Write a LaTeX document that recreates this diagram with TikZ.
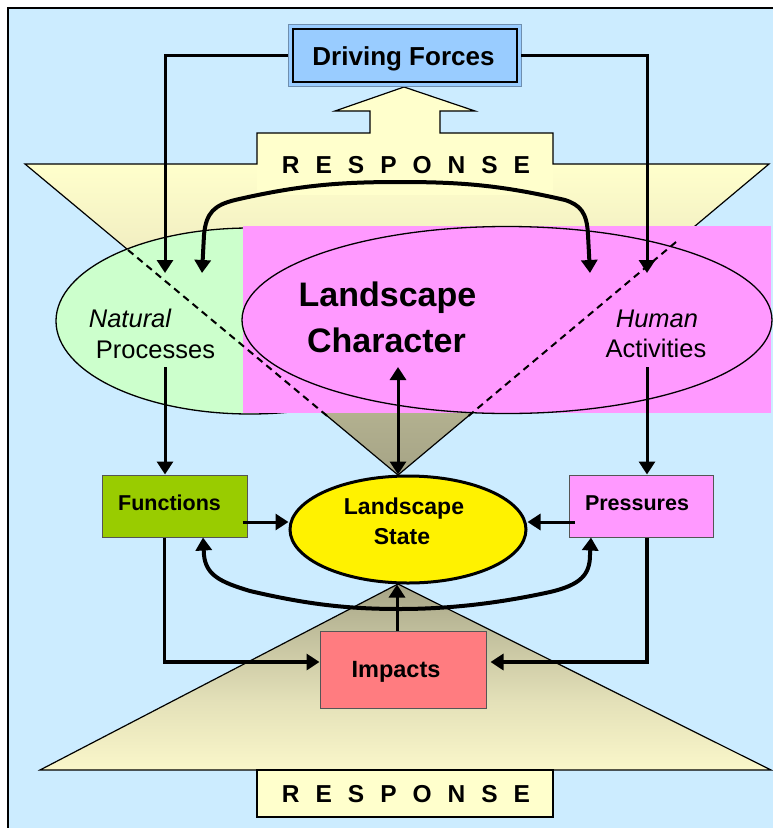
\documentclass[tikz,border=0pt]{standalone}
\usepackage{fontspec}
\setmainfont{Liberation Sans}
\usetikzlibrary{arrows.meta,calc,shapes.geometric}
\definecolor{bgblue}{HTML}{CCECFF}
\definecolor{lyellow}{HTML}{FFFFCC}
\definecolor{khaki}{HTML}{A6A486}
\definecolor{lgreen}{HTML}{CCFFCC}
\definecolor{pinkc}{HTML}{FF99FF}
\definecolor{fgreen}{HTML}{99CC00}
\definecolor{salmon}{HTML}{FF7C80}
\definecolor{dfblue}{HTML}{99CCFF}
\definecolor{boxgray}{HTML}{555555}
\definecolor{dfedge}{HTML}{6F8FAF}
\definecolor{ushA}{HTML}{F3F0C3}
\definecolor{ushB}{HTML}{D6D3AB}
\definecolor{ushC}{HTML}{B2B08F}
\definecolor{lshA}{HTML}{FAF7CA}
\definecolor{lshB}{HTML}{E3E0B8}
\definecolor{lshC}{HTML}{C5C3A0}
\pgfdeclareverticalshading{upshade}{100bp}{color(0bp)=(khaki); color(25bp)=(khaki); color(32.7bp)=(ushC); color(43.7bp)=(ushB); color(55.3bp)=(ushA); color(65bp)=(lyellow); color(100bp)=(lyellow)}
\pgfdeclareverticalshading{lowshade}{100bp}{color(0bp)=(lyellow); color(25bp)=(lyellow); color(35.1bp)=(lshA); color(50.1bp)=(lshB); color(63bp)=(lshC); color(75bp)=(khaki); color(100bp)=(khaki)}
\newcommand{\myfs}[1]{\fontsize{#1pt}{#1pt}\selectfont}
\begin{document}
\begin{tikzpicture}[x=1pt,y=-1pt,
  tip/.tip={Triangle[length=13pt,width=16pt]},
  arr/.style={-tip, line width=3pt},
  arrboth/.style={tip-tip, line width=3pt},
  shapeline/.style={line width=1.2pt, line join=miter},
  boxnode/.style={rectangle, draw=boxgray, line width=1pt, inner sep=0pt},
  txt/.style={anchor=base, inner sep=0pt},
  resp/.style={txt, font=\myfs{24.5}\bfseries},
  dashline/.style={line width=2pt, dash pattern=on 7pt off 5pt}
]
\useasboundingbox (0,0) rectangle (773,828);
\clip (0,0) rectangle (773,828);
\fill[white] (0,0) rectangle (773,828);
\fill[bgblue] (8,8) rectangle (773,828);
\draw[line width=1.5pt] (8,828) -- (8,8) -- (773,8);

% upper response arrow shape
\shade[shading=upshade]
  (25,164) -- (257,164) -- (257,133) -- (370,133) -- (370,111) -- (335,111) -- (404,87)
  -- (475,111) -- (440,111) -- (440,133) -- (553,133) -- (553,164) -- (769,164) -- (398,475) -- cycle;
\fill[lyellow] (257,133) rectangle (553,195);
\draw[shapeline]
  (25,164) -- (257,164) -- (257,133) -- (370,133) -- (370,111) -- (335,111) -- (404,87)
  -- (475,111) -- (440,111) -- (440,133) -- (553,133) -- (553,164) -- (769,164) -- (398,475) -- cycle;

% lower response shape
\shade[shading=lowshade]
  (40,770) -- (398,584) -- (771,770) -- (553,770) -- (553,817) -- (257,817) -- (257,770) -- cycle;
\draw[shapeline] (40,770) -- (398,584) -- (771,770) -- cycle;
\filldraw[fill=lyellow, draw=black, line width=1.2pt] (257,770) rectangle (553,817);

% ellipses
\node[ellipse, draw, line width=1.3pt, fill=lgreen, minimum width=388pt, minimum height=186pt, inner sep=0pt] (npell) at (250,321) {};
\fill[pinkc] (243,226) rectangle (771,413);
\node[ellipse, draw, line width=1.3pt, fill=pinkc, minimum width=530pt, minimum height=187pt, inner sep=0pt] (lcell) at (507,320) {};

\draw[dashline] (128,250) -- (329.6,418);
\draw[dashline] (676,242) -- (468.4,416);

% texts in ellipses
\node[txt, font=\myfs{25.5}\itshape] (nat) at (130,327) {Natural};
\node[txt, font=\myfs{25.5}] (proc) at (155.5,358) {Processes};
\node[txt, font=\myfs{25.5}\itshape] (hum) at (657,327) {Human};
\node[txt, font=\myfs{25.5}] (act) at (656,357) {Activities};
\node[txt, font=\myfs{34}\bfseries] (lc1) at (387.5,306) {Landscape};
\node[txt, font=\myfs{34}\bfseries] (lc2) at (386.5,352) {Character};

% response texts
\node[resp] (resptop) at (406,173) {\spaceskip=16pt\relax R E S P O N S E};
\node[resp] (respbot) at (406,802) {\spaceskip=16pt\relax R E S P O N S E};

% driving forces
\node[rectangle, draw=dfedge, line width=0.8pt, fill=dfblue, minimum width=233pt, minimum height=62pt, inner sep=0pt] (dfo) at (404.5,55) {};
\node[rectangle, draw=black, line width=2.7pt, fill=dfblue, minimum width=224pt, minimum height=53pt, inner sep=0pt] (df) at (405,55.5) {};
\node[txt, font=\myfs{26}\bfseries] (dftxt) at (403.5,65) {Driving Forces};

% boxes
\node[boxnode, fill=fgreen, minimum width=145pt, minimum height=62pt] (fn) at (174.5,506) {};
\node[txt, font=\myfs{21.5}\bfseries] (fntxt) at (169.5,510) {Functions};
\node[boxnode, fill=pinkc, minimum width=144pt, minimum height=62pt] (pr) at (641,506) {};
\node[txt, font=\myfs{21.5}\bfseries] (prtxt) at (637,510) {Pressures};
\node[boxnode, fill=salmon, minimum width=166pt, minimum height=77pt] (im) at (403,669.5) {};
\node[txt, font=\myfs{23.5}\bfseries] (imtxt) at (396,677) {Impacts};
\node[ellipse, draw=black, line width=3pt, fill=yellow, minimum width=236pt, minimum height=107pt, inner sep=0pt] (ls) at (408,529.5) {};
\node[txt, font=\myfs{23}\bfseries] (ls1) at (404,514) {Landscape};
\node[txt, font=\myfs{23}\bfseries] (ls2) at (402,544) {State};

% connectors
\coordinate (npin) at (165,273);
\coordinate (hain) at (647,273);
\draw[arr] (dfo.west) -| (npin);
\draw[arr] (dfo.east) -| (hain);

\coordinate (ca) at (202,273);
\coordinate (cb) at (590,273);
\draw[arrboth, line width=4pt] (ca) -- (204,235) .. controls (206,212) and (215,205) .. (235,200)
  .. controls (300,185) and (340,182) .. (400,182) .. controls (460,182) and (500,185) .. (565,200)
  .. controls (580,205) and (587,212) .. (588,235) -- (cb);

\coordinate (npout) at (165,367);
\coordinate (haout) at (647,367);
\coordinate (lcout) at (398,367);
\draw[arr] (npout) -- (npout |- fn.north);
\draw[arr] (haout) -- (haout |- pr.north);
\draw[arrboth] (lcout) -- (lcout |- ls.north);

\coordinate (fnE) at ($(fn.east)+(-5,16)$);
\coordinate (prW) at ($(pr.west)+(6,16)$);
\draw[arr] (fnE) -- (fnE -| ls.west);
\draw[arr] (prW) -- (prW -| ls.east);

\coordinate (da) at ($(fn.south)+(28.5,0)$);
\coordinate (db) at ($(pr.south)+(-50,0)$);
\draw[arrboth, line width=4pt] (da) -- (204,555) .. controls (206,575) and (220,582) .. (250,591)
  .. controls (310,605) and (350,609) .. (400,609) .. controls (450,609) and (500,603) .. (550,592)
  .. controls (580,585) and (590,575) .. (590,555) -- (db);

\coordinate (imN) at ($(im.north)+(-6,0)$);
\draw[arr] (imN) -- (imN |- ls.south);

\draw[arr, line width=3.5pt] ($(fn.south)+(-10,0)$) |- ($(im.west)+(0,-7.5)$);
\draw[arr, line width=3.5pt] ($(pr.south)+(6,0)$) |- ($(im.east)+(4,-7.5)$);
\end{tikzpicture}
\end{document}
